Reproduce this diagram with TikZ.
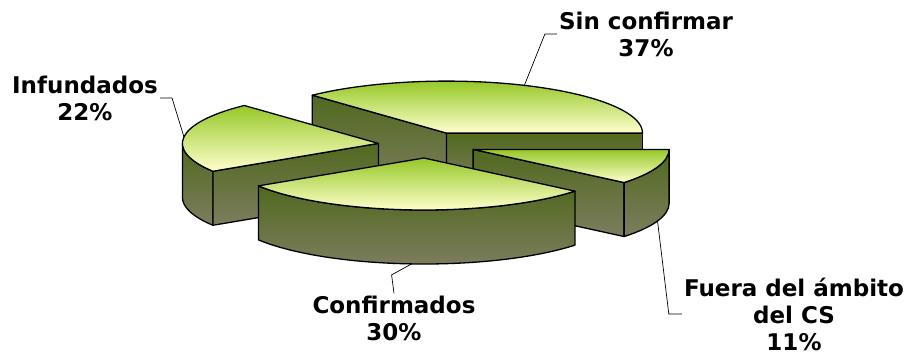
\documentclass[tikz,border=0pt]{standalone}
\usepackage{fontspec}
\setmainfont{DejaVu Sans}
\usetikzlibrary{calc}
\definecolor{topgreen}{RGB}{150,200,40}
\definecolor{toppale}{RGB}{255,255,204}
\definecolor{sidedark}{RGB}{80,105,30}
\definecolor{sidelight}{RGB}{125,125,95}
\tikzstyle{top} = [draw, line width=1.3pt, line join=round,
    top color=topgreen, bottom color=toppale]
\tikzstyle{side} = [draw, line width=1.3pt, line join=round,
    top color=sidedark, bottom color=sidelight]
\tikzstyle{pielabel} = [align=center, inner sep=2pt,
    font=\fontsize{23}{27}\selectfont\bfseries]
\tikzstyle{leader} = [draw, line width=0.7pt]

\begin{document}
\begin{tikzpicture}[x=1pt, y=1pt]
    \useasboundingbox (0,0) rectangle (909,-356);
    % apex of each exploded slice
    \coordinate (sin) at (446.5,-133.1);
    \coordinate (inf) at (378.4,-143.4);
    \coordinate (conf) at (423.9,-158);
    \coordinate (fue) at (473.1,-149.4);
    % Sin confirmar
    \path [side] (sin) -- ($(sin)+(0:196pt and 52pt)$) -- ++(0,-54pt)
        -- ($(sin)+(0,-54pt)$) -- cycle;
    \path [side] (sin) -- ($(sin)+(133.2:196pt and 52pt)$) -- ++(0,-54pt)
        -- ($(sin)+(0,-54pt)$) -- cycle;
    \path [top] (sin) -- ($(sin)+(0:196pt and 52pt)$)
        arc (0:133.2:196pt and 52pt) -- cycle;
    % Infundados
    \path [side] ($(inf)+(180:196pt and 52pt)$) arc (180:212.4:196pt and 52pt)
        -- ++(0,-54pt) arc (212.4:180:196pt and 52pt) -- cycle;
    \path [side] (inf) -- ($(inf)+(212.4:196pt and 52pt)$) -- ++(0,-54pt)
        -- ($(inf)+(0,-54pt)$) -- cycle;
    \path [top] (inf) -- ($(inf)+(133.2:196pt and 52pt)$)
        arc (133.2:212.4:196pt and 52pt) -- cycle;
    % Fuera del ambito
    \path [side] (fue) -- ($(fue)+(320.4:196pt and 52pt)$) -- ++(0,-54pt)
        -- ($(fue)+(0,-54pt)$) -- cycle;
    \path [side] ($(fue)+(320.4:196pt and 52pt)$) arc (320.4:360:196pt and 52pt)
        -- ++(0,-54pt) arc (360:320.4:196pt and 52pt) -- cycle;
    \path [top] (fue) -- ($(fue)+(320.4:196pt and 52pt)$)
        arc (320.4:360:196pt and 52pt) -- cycle;
    % Confirmados
    \path [side] ($(conf)+(212.4:196pt and 52pt)$) arc (212.4:320.4:196pt and 52pt)
        -- ++(0,-54pt) arc (320.4:212.4:196pt and 52pt) -- cycle;
    \path [top] (conf) -- ($(conf)+(212.4:196pt and 52pt)$)
        arc (212.4:320.4:196pt and 52pt) -- cycle;
    % labels
    \coordinate (sin-tip) at ($(sin)+(66.6:196pt and 52pt)$);
    \coordinate (inf-tip) at ($(inf)+(172.8:196pt and 52pt)$);
    \coordinate (conf-tip) at ($(conf)+(266.4:196pt and 52pt)+(0,-54pt)$);
    \coordinate (fue-tip) at ($(fue)+(340.2:196pt and 52pt)+(0,-54pt)$);
    \node [pielabel] (sin-lab) at (646,-34) {Sin confirmar\\37\%};
    \node [pielabel] (inf-lab) at (85,-98) {Infundados\\22\%};
    \node [pielabel] (conf-lab) at (394,-318) {Confirmados\\30\%};
    \node [pielabel] (fue-lab) at (794,-314) {Fuera del ámbito\\del CS\\11\%};
    \path [leader] (sin-tip) -- ([xshift=-12pt]sin-lab.west) -- (sin-lab.west);
    \path [leader] (inf-tip) -- ([xshift=12pt]inf-lab.east) -- (inf-lab.east);
    \path [leader] (conf-tip) -- ++(-20pt,-11pt) -- (conf-lab.north);
    \path [leader] (fue-tip) -- ([xshift=-13pt]fue-lab.west) -- (fue-lab.west);
\end{tikzpicture}
\end{document}
